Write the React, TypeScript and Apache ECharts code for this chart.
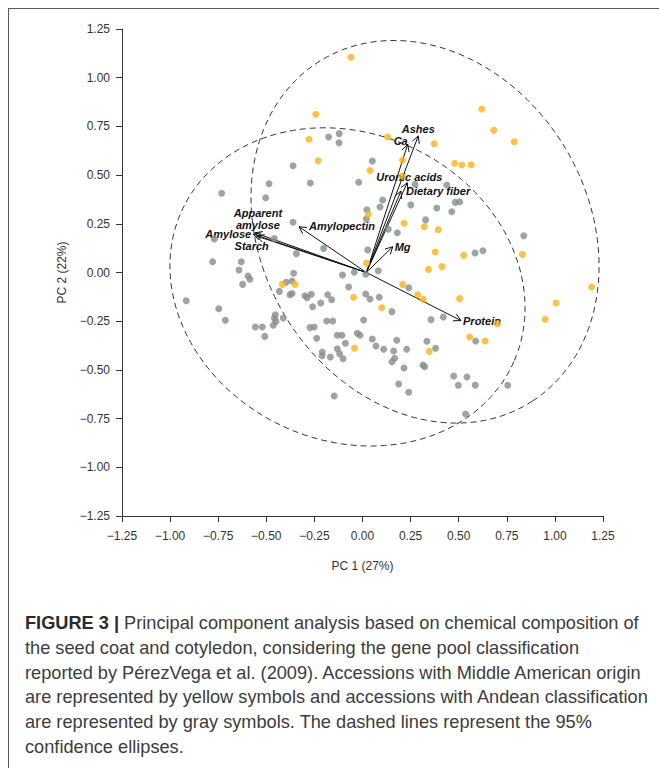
import React, { useEffect, useRef } from "react";
import * as echarts from "echarts";

// ---------- data ----------
const AXIS_MIN = -1.25;
const AXIS_MAX = 1.25;
const AXIS_STEP = 0.25;

const X_AXIS_NAME = "PC 1 (27%)";
const Y_AXIS_NAME = "PC 2 (22%)";

// Middle American accessions (yellow)
const middleAmericanPoints: [number, number][] = [
  [-0.06, 1.105], [-0.243, 0.812], [-0.278, 0.684], [0.13, 0.696], [-0.231, 0.574],
  [0.039, 0.524], [0.208, 0.576], [0.03, 0.299], [0.216, 0.253], [0.021, 0.048],
  [-0.417, -0.061], [-0.351, -0.061], [-0.046, -0.127], [0.1, -0.181], [-0.042, -0.389],
  [0.209, -0.061], [0.287, -0.114], [0.316, -0.138], [0.505, -0.134], [0.701, -0.263],
  [0.557, -0.331], [0.637, -0.352], [0.347, -0.405], [0.949, -0.24], [1.006, -0.157],
  [1.191, -0.074], [0.378, 0.105], [0.526, 0.088], [0.831, 0.093], [0.343, 0.016],
  [0.413, 0.03], [0.62, 0.839], [0.682, 0.73], [0.789, 0.671], [0.373, 0.661],
  [0.479, 0.561], [0.516, 0.552], [0.565, 0.553], [0.205, 0.495], [0.321, 0.235],
  [0.394, 0.22],
];

// Andean accessions (gray)
const andeanPoints: [number, number][] = [
  [-0.176, 0.696], [-0.121, 0.713], [-0.122, 0.666], [-0.361, 0.548], [0.051, 0.572],
  [-0.486, 0.456], [-0.271, 0.459], [-0.02, 0.463], [-0.732, 0.407], [-0.503, 0.384],
  [0.105, 0.372], [0.091, 0.336], [0.023, 0.322], [0.02, 0.275], [0.251, 0.347],
  [-0.361, 0.258], [0.134, 0.222], [0.181, 0.204], [-0.77, 0.172], [-0.458, 0.174],
  [-0.202, 0.124], [-0.344, 0.097], [0.027, 0.116], [-0.779, 0.055], [-0.63, 0.055],
  [-0.642, 0.013], [-0.595, -0.018], [-0.585, -0.035], [-0.623, -0.061], [-0.358, -0.004],
  [-0.104, -0.013], [-0.043, 0.001], [0.082, 0.009], [0.017, -0.009], [-0.916, -0.145],
  [-0.747, -0.186], [-0.713, -0.245], [-0.396, -0.05], [-0.366, -0.044], [-0.432, -0.097],
  [-0.377, -0.114], [-0.366, -0.108], [-0.299, -0.119], [-0.288, -0.129], [-0.266, -0.112],
  [-0.259, -0.176], [-0.217, -0.157], [-0.181, -0.114], [-0.16, -0.14], [-0.453, -0.217],
  [-0.458, -0.235], [-0.45, -0.251], [-0.464, -0.271], [-0.412, -0.234], [-0.557, -0.28],
  [-0.521, -0.28], [-0.508, -0.328], [-0.273, -0.283], [-0.251, -0.28], [-0.238, -0.338],
  [-0.186, -0.249], [-0.155, -0.249], [-0.131, -0.322], [-0.107, -0.322], [-0.089, -0.363],
  [-0.209, -0.408], [-0.21, -0.427], [-0.167, -0.434], [-0.131, -0.391], [-0.119, -0.417],
  [-0.101, -0.443], [-0.147, -0.634], [-0.072, -0.074], [0.017, -0.11], [0.039, -0.136],
  [0.087, -0.127], [0.153, -0.201], [0.006, -0.244], [-0.027, -0.312], [-0.013, -0.322],
  [0.051, -0.341], [0.07, -0.377], [0.11, -0.394], [0.178, -0.348], [0.162, -0.403],
  [0.167, -0.44], [0.153, -0.458], [0.23, -0.394], [0.216, -0.49], [0.188, -0.572],
  [0.24, -0.615], [0.24, -0.078], [0.356, -0.242], [0.42, -0.228], [0.588, -0.352],
  [0.335, -0.353], [0.38, -0.389], [0.314, -0.475], [0.323, -0.484], [0.474, -0.531],
  [0.543, -0.536], [0.498, -0.579], [0.586, -0.578], [0.755, -0.579], [0.536, -0.726],
  [0.585, 0.1], [0.626, 0.112], [0.273, 0.453], [0.438, 0.449], [0.386, 0.331],
  [0.482, 0.36], [0.505, 0.363], [0.464, 0.312], [0.328, 0.27], [0.838, 0.189],
];

// Loading vectors
const loadingNames = [
  "Ashes", "Ca", "Uronic acids", "Dietary fiber", "Mg",
  "Amylopectin", "Apparent\namylose", "Amylose", "Starch", "Protein",
];
const loadingX = [0.29, 0.235, 0.233, 0.2, 0.157, -0.33, -0.559, -0.568, -0.55, 0.512];
const loadingY = [0.701, 0.658, 0.461, 0.418, 0.132, 0.235, 0.204, 0.197, 0.187, -0.247];
const arrowOrigin = [0.02, 0];

// 95% confidence ellipses: [Middle American, Andean]
const ellipseCenterX = [0.325, -0.078];
const ellipseCenterY = [0.209, -0.074];
const ellipseSemiMajor = [1.033, 0.946];
const ellipseSemiMinor = [0.846, 0.79];
const ellipseAngleDeg = [-57.3, -23.5];

const captionLines = [
  "Principal component analysis based on chemical composition of",
  "the seed coat and cotyledon, considering the gene pool classification",
  "reported by PérezVega et al. (2009). Accessions with Middle American origin",
  "are represented by yellow symbols and accessions with Andean classification",
  "are represented by gray symbols. The dashed lines represent the 95%",
  "confidence ellipses.",
];
const captionLead = "FIGURE 3 |";

// ---------- styles ----------
const FONT = "'Liberation Sans', Arial, Helvetica, sans-serif";
const GRAY = "#858e8c";
const ORANGE = "#fbb117";
const INK = "#333333";
const CAPTION_SIZE = 18.2;

const labelPlacement: Record<string, { dx: number; dy: number; align: string; vAlign: string }> = {
  Ashes: { dx: 0, dy: -7, align: "center", vAlign: "middle" },
  Ca: { dx: 0, dy: -3, align: "right", vAlign: "middle" },
  "Uronic acids": { dx: 2, dy: -6, align: "center", vAlign: "middle" },
  "Dietary fiber": { dx: 5, dy: 0, align: "left", vAlign: "middle" },
  Mg: { dx: 2, dy: 0, align: "left", vAlign: "middle" },
  Amylopectin: { dx: 10, dy: -1, align: "left", vAlign: "middle" },
  "Apparent\namylose": { dx: 3, dy: -2, align: "center", vAlign: "bottom" },
  Amylose: { dx: -2, dy: 0, align: "right", vAlign: "middle" },
  Starch: { dx: -5, dy: 10, align: "center", vAlign: "middle" },
  Protein: { dx: 2, dy: 0, align: "left", vAlign: "middle" },
};

function fmt(v: number): string {
  const s = Math.abs(v).toFixed(2);
  return v < -1e-9 ? "\u2212" + s : s;
}

export default function App() {
  const ref = useRef<HTMLDivElement>(null);

  useEffect(() => {
    if (!ref.current) return;
    const chart = echarts.init(ref.current, undefined, { renderer: "svg" });

    const ellipseData = ellipseCenterX.map((cx, i) => [
      cx, ellipseCenterY[i], ellipseSemiMajor[i], ellipseSemiMinor[i], ellipseAngleDeg[i],
    ]);
    const arrowData = loadingNames.map((_, i) => [loadingX[i], loadingY[i], i]);

    const axisCommon = {
      min: AXIS_MIN,
      max: AXIS_MAX,
      interval: AXIS_STEP,
      axisLine: { show: true, onZero: false, lineStyle: { color: INK, width: 1 } },
      axisTick: { show: true, length: 6, lineStyle: { color: INK, width: 1 } },
      splitLine: { show: false },
    };

    const captionTop = 623;
    const captionStep = 24.8;

    const graphics: any[] = [
      { type: "line", shape: { x1: 8.5, y1: 8, x2: 8.5, y2: 768 }, style: { stroke: "#5a5a5a", lineWidth: 1 } },
      { type: "line", shape: { x1: 8, y1: 8.5, x2: 659, y2: 8.5 }, style: { stroke: "#5a5a5a", lineWidth: 1 } },
      {
        type: "text", x: 362.5, y: 566,
        style: { text: X_AXIS_NAME, fill: INK, font: `12px ${FONT}`, align: "center", verticalAlign: "middle" },
      },
      {
        type: "text", x: 62, y: 272.5, rotation: Math.PI / 2,
        style: { text: Y_AXIS_NAME, fill: INK, font: `12px ${FONT}`, align: "center", verticalAlign: "middle" },
      },
    ];
    captionLines.forEach((line, i) => {
      graphics.push({
        type: "text",
        x: 25,
        y: captionTop + i * captionStep,
        style: {
          text: i === 0 ? `{b|${captionLead}} ${line}` : line,
          fill: "#3c3c3c",
          font: `${CAPTION_SIZE}px ${FONT}`,
          fontSize: CAPTION_SIZE,
          fontFamily: FONT,
          align: "left",
          verticalAlign: "middle",
          rich: {
            b: { fontWeight: "bold", fontSize: CAPTION_SIZE, fontFamily: FONT, fill: "#2a2a2a" },
          },
        },
      });
    });

    const option: any = {
      animation: false,
      grid: { left: 122, top: 29, width: 481, height: 487, containLabel: false },
      xAxis: {
        type: "value",
        ...axisCommon,
        axisLabel: { color: INK, fontSize: 12, fontFamily: FONT, margin: 14, formatter: fmt },
      },
      yAxis: {
        type: "value",
        ...axisCommon,
        axisLabel: { color: INK, fontSize: 12, fontFamily: FONT, margin: 12, formatter: fmt },
      },
      graphic: graphics,
      series: [
        {
          type: "custom",
          name: "ellipses",
          silent: true,
          clip: false,
          data: ellipseData,
          encode: { x: 0, y: 1 },
          renderItem: (params: any, api: any) => {
            const cx = api.value(0);
            const cy = api.value(1);
            const a = api.value(2);
            const b = api.value(3);
            const phi = (api.value(4) * Math.PI) / 180;
            const pts: number[][] = [];
            const n = 180;
            for (let k = 0; k <= n; k++) {
              const t = (2 * Math.PI * k) / n;
              const x = cx + a * Math.cos(t) * Math.cos(phi) - b * Math.sin(t) * Math.sin(phi);
              const y = cy + a * Math.cos(t) * Math.sin(phi) + b * Math.sin(t) * Math.cos(phi);
              pts.push(api.coord([x, y]));
            }
            return {
              type: "polyline",
              shape: { points: pts },
              style: { fill: "none", stroke: "#333", lineWidth: 1, lineDash: [6, 4] },
            };
          },
        },
        {
          type: "scatter",
          name: "Andean",
          data: andeanPoints,
          symbol: "circle",
          symbolSize: 7,
          itemStyle: { color: GRAY },
          emphasis: { disabled: true },
        },
        {
          type: "scatter",
          name: "Middle American",
          data: middleAmericanPoints,
          symbol: "circle",
          symbolSize: 7,
          itemStyle: { color: ORANGE },
          emphasis: { disabled: true },
        },
        {
          type: "custom",
          name: "loadings",
          silent: true,
          clip: false,
          data: arrowData,
          encode: { x: 0, y: 1 },
          renderItem: (params: any, api: any) => {
            const idx = api.value(2);
            const name = loadingNames[idx];
            const p0 = api.coord(arrowOrigin);
            const p1 = api.coord([api.value(0), api.value(1)]);
            const ang = Math.atan2(p1[1] - p0[1], p1[0] - p0[0]);
            const hl = 8;
            const ha = (28 * Math.PI) / 180;
            const h1 = [p1[0] - hl * Math.cos(ang - ha), p1[1] - hl * Math.sin(ang - ha)];
            const h2 = [p1[0] - hl * Math.cos(ang + ha), p1[1] - hl * Math.sin(ang + ha)];
            const lp = labelPlacement[name];
            return {
              type: "group",
              children: [
                {
                  type: "line",
                  shape: { x1: p0[0], y1: p0[1], x2: p1[0], y2: p1[1] },
                  style: { stroke: "#111", lineWidth: 1 },
                },
                {
                  type: "polyline",
                  shape: { points: [h1, p1, h2] },
                  style: { stroke: "#111", lineWidth: 1, fill: "none" },
                },
                {
                  type: "text",
                  x: p1[0] + lp.dx,
                  y: p1[1] + lp.dy,
                  style: {
                    text: name,
                    fill: "#111",
                    font: `italic bold 11px ${FONT}`,
                    fontStyle: "italic",
                    fontWeight: "bold",
                    fontSize: 11,
                    fontFamily: FONT,
                    lineHeight: 12,
                    align: lp.align,
                    verticalAlign: lp.vAlign,
                  },
                },
              ],
            };
          },
        },
      ],
    };

    chart.setOption(option);
    return () => chart.dispose();
  }, []);

  return (
    <div
      ref={ref}
      style={{ position: "absolute", left: 0, top: 0, width: 659, height: 768, background: "#fff" }}
    />
  );
}
